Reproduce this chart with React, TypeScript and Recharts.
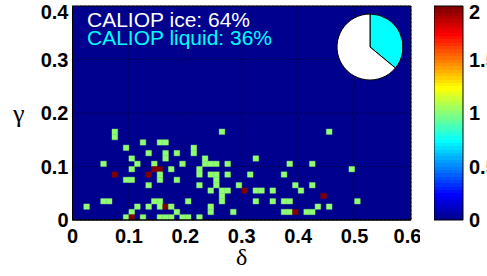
import React from "react"
import {
  ComposedChart,
  XAxis,
  YAxis,
  CartesianGrid,
  ReferenceArea,
  BarChart,
  Bar,
  PieChart,
  Pie,
  Cell,
} from "recharts"

// axis ticks
const deltaTicks = [0, 0.1, 0.2, 0.3, 0.4, 0.5, 0.6]
const gammaTicks = [0, 0.1, 0.2, 0.3, 0.4]
const countTicks = [0, 0.5, 1, 1.5, 2]

// 2D histogram, bins of 0.01 x 0.01 (lower edges), one row per gamma bin
const binSize = 0.01
const gammaRows = [0.16, 0.15, 0.14, 0.13, 0.12, 0.11, 0.1, 0.09, 0.08, 0.07, 0.06, 0.05, 0.04, 0.03, 0.02, 0.01, 0]
const deltaRows = [
  [0.07, 0.26, 0.45],
  [0.07],
  [0.12, 0.15, 0.16],
  [0.09, 0.21],
  [0.13, 0.16, 0.18, 0.21],
  [0.1, 0.16, 0.23, 0.32],
  [0.05, 0.11, 0.14, 0.19, 0.23, 0.24, 0.25, 0.27, 0.38, 0.42],
  [0.1, 0.14, 0.15, 0.17, 0.22, 0.49],
  [0.07, 0.13, 0.15, 0.22, 0.24, 0.25, 0.27, 0.31, 0.37],
  [0.09, 0.1, 0.15, 0.18, 0.25],
  [0.13, 0.22, 0.25, 0.29, 0.39, 0.42],
  [0.24, 0.26, 0.27, 0.3, 0.32, 0.33, 0.35, 0.4],
  [0.26, 0.44],
  [0.05, 0.06, 0.14, 0.15, 0.2, 0.26, 0.32, 0.35, 0.37, 0.38, 0.5],
  [0.02, 0.11, 0.13, 0.15, 0.16, 0.17, 0.24, 0.43, 0.45],
  [0.1, 0.18, 0.24, 0.28, 0.37, 0.38, 0.39, 0.41, 0.42],
  [0.09, 0.1, 0.12, 0.15, 0.16, 0.17, 0.19, 0.2, 0.22],
]
const countRows = [
  [1, 1, 1],
  [1],
  [1, 1, 1],
  [1, 1],
  [1, 1, 1, 1],
  [1, 1, 1, 1],
  [1, 1, 1, 1, 1, 1, 1, 1, 1, 1],
  [1, 2, 2, 1, 1, 1],
  [2, 2, 1, 1, 1, 1, 1, 1, 1],
  [1, 1, 1, 1, 1],
  [1, 1, 1, 1, 1, 1],
  [1, 1, 1, 2, 1, 1, 1, 1],
  [1, 2],
  [1, 1, 1, 1, 1, 1, 1, 1, 1, 1, 1],
  [1, 1, 1, 1, 2, 1, 1, 1, 1],
  [1, 1, 1, 1, 1, 1, 2, 1, 1],
  [1, 2, 1, 1, 1, 1, 1, 1, 1],
]

// CALIOP phase shares
const phaseNames = ["liquid", "ice"]
const phaseShares = [36, 64]
const phaseColors = ["#00ffff", "#ffffff"]

const maxCount = 2
const colorbarData = [{ name: "count", value: maxCount }]

// matlab jet(64)
function jet(t: number) {
  const i = Math.min(64, Math.floor(t * 64) + 1)
  const s = i / 64
  const c = (v: number) => Math.round(255 * Math.max(0, Math.min(1, v)))
  return `rgb(${c(1.5 - Math.abs(4 * s - 3))},${c(1.5 - Math.abs(4 * s - 2))},${c(1.5 - Math.abs(4 * s - 1))})`
}

const tickStyle = {
  fontSize: 20,
  fontWeight: "bold",
  fill: "#000",
  fontFamily: "'Liberation Sans', Arial, sans-serif",
}

const cells = gammaRows.flatMap((g, r) =>
  deltaRows[r].map((d, k) => ({ d, g, n: countRows[r][k] }))
)
const pieData = phaseNames.map((name, i) => ({ name, value: phaseShares[i] }))

export default function App() {
  return (
    <div style={{ position: "fixed", left: 0, top: 0, width: 487, height: 276, overflow: "hidden", background: "#fff" }}>
      <svg width={0} height={0} style={{ position: "absolute" }}>
        <defs>
          <linearGradient id="jetbar" x1="0" y1="1" x2="0" y2="0">
            {Array.from({ length: 64 }).flatMap((_, i) => [
              <stop key={"a" + i} offset={i / 64} stopColor={jet(i / 64)} />,
              <stop key={"b" + i} offset={(i + 1) / 64} stopColor={jet(i / 64)} />,
            ])}
          </linearGradient>
        </defs>
      </svg>

      <div style={{ position: "absolute", left: 0, top: 0 }}>
        <ComposedChart width={420} height={276} margin={{ top: 6, right: 9, left: 0, bottom: 0 }}>
          <CartesianGrid fill={jet(0)} fillOpacity={1} stroke="#000" strokeDasharray="1 3" />
          <XAxis
            type="number"
            dataKey="d"
            domain={[0, 0.6]}
            ticks={deltaTicks}
            allowDataOverflow
            height={56}
            tickLine={false}
            tickSize={0}
            tickMargin={9}
            axisLine={{ stroke: "#000" }}
            tick={tickStyle}
            label={{ value: "δ", position: "insideBottom", offset: 11, fontSize: 24, fill: "#000", fontFamily: "'Liberation Serif', serif" }}
          />
          <YAxis
            type="number"
            dataKey="g"
            domain={[0, 0.4]}
            ticks={gammaTicks}
            allowDataOverflow
            width={72.5}
            tickLine={false}
            tickSize={0}
            tickMargin={4}
            axisLine={{ stroke: "#000" }}
            tick={tickStyle}
            label={{ value: "γ", position: "insideLeft", offset: 13, fontSize: 26, fill: "#000", fontFamily: "'Liberation Serif', serif" }}
          />
          {cells.map((c, i) => (
            <ReferenceArea
              key={i}
              x1={c.d}
              x2={c.d + binSize}
              y1={c.g}
              y2={c.g + binSize}
              fill={jet(c.n / maxCount)}
              fillOpacity={1}
              stroke={jet(c.n / maxCount)}
              strokeWidth={0.4}
              ifOverflow="visible"
            />
          ))}
          <ReferenceArea x1={0} x2={0.6} y1={0} y2={0.4} fill="none" fillOpacity={0} stroke="#000" strokeWidth={1} />
        </ComposedChart>
      </div>

      <div style={{ position: "absolute", left: 330, top: 7 }}>
        <PieChart width={80} height={80} margin={{ top: 0, right: 0, bottom: 0, left: 0 }}>
          <Pie
            data={pieData}
            dataKey="value"
            cx={40}
            cy={40}
            outerRadius={33}
            startAngle={90}
            endAngle={-270}
            stroke="#000"
            strokeWidth={1}
            isAnimationActive={false}
          >
            {pieData.map((d, i) => (
              <Cell key={d.name} fill={phaseColors[i]} />
            ))}
          </Pie>
        </PieChart>
      </div>

      <svg width={487} height={60} style={{ position: "absolute", left: 0, top: 0 }}>
        <text x={87} y={26.5} fill="#ffffff" fontSize={19.5} fontFamily="'Liberation Sans', Arial, sans-serif" textLength={163} lengthAdjust="spacingAndGlyphs">
          {`CALIOP ${phaseNames[1]}: ${phaseShares[1]}%`}
        </text>
        <text x={87} y={45} fill="#00ffff" fontSize={19.5} fontFamily="'Liberation Sans', Arial, sans-serif" textLength={185} lengthAdjust="spacingAndGlyphs">
          {`CALIOP ${phaseNames[0]}: ${phaseShares[0]}%`}
        </text>
      </svg>

      <div style={{ position: "absolute", left: 434, top: 0 }}>
        <BarChart width={100} height={276} data={colorbarData} margin={{ top: 6, right: 0, left: 0, bottom: 56 }} barCategoryGap={0}>
          <XAxis dataKey="name" hide />
          <YAxis
            orientation="right"
            type="number"
            domain={[0, maxCount]}
            ticks={countTicks}
            width={71}
            tickLine={false}
            tickSize={0}
            tickMargin={6}
            axisLine={false}
            tick={{ ...tickStyle, textAnchor: "start" }}
          />
          <Bar dataKey="value" fill="url(#jetbar)" stroke="#000" strokeWidth={1} isAnimationActive={false} />
        </BarChart>
      </div>
    </div>
  )
}
